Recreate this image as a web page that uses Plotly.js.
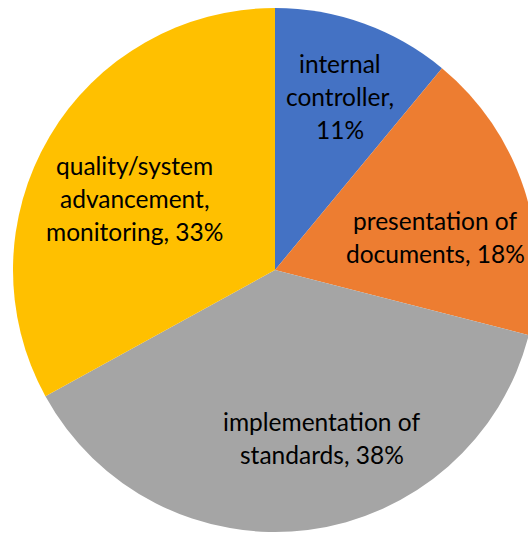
<!DOCTYPE html>
<html>
<head>
<meta charset="utf-8">
<script src="https://cdn.plot.ly/plotly-3.0.1.min.js"></script>
<style>
html,body{margin:0;padding:0;overflow:hidden;background:#fff;}
#chart{width:550px;height:534px;}
</style>
</head>
<body>
<div id="chart"></div>
<script>
const categories = ["internal controller", "presentation of documents", "implementation of standards", "quality/system advancement, monitoring"];
const values = [11, 18, 38, 33];
const colors = ["#4472C4", "#ED7D31", "#A5A5A5", "#FFC000"];
// how each label is broken into lines (as in the reference)
const labelLines = [
  ["internal", "controller,", "{p}"],
  ["presentation of", "documents, {p}"],
  ["implementation of", "standards, {p}"],
  ["quality/system", "advancement,", "monitoring, {p}"]
];
// label centres (paper coords)
const labelPos = [[0.618, 0.820], [0.791, 0.556], [0.585, 0.180], [0.245, 0.629]];

const total = values.reduce((a, b) => a + b, 0);
const W = 550, H = 534, lineH = 33;
const annotations = [];
labelLines.forEach((lines, i) => {
  const pct = Math.round(values[i] / total * 100) + "%";
  const n = lines.length;
  lines.forEach((ln, j) => {
    const off = (j - (n - 1) / 2) * lineH / H;
    annotations.push({
      text: ln.replace("{p}", pct),
      x: labelPos[i][0], y: labelPos[i][1] - off,
      xref: "paper", yref: "paper",
      xanchor: "center", yanchor: "middle",
      showarrow: false,
      font: {family: "Lato, 'Open Sans', sans-serif", size: 24.5, color: "#000000"}
    });
  });
});

const data = [{
  type: "pie",
  labels: categories,
  values: values,
  sort: false,
  direction: "clockwise",
  rotation: 0,
  marker: {colors: colors, line: {width: 0}},
  textinfo: "none",
  hoverinfo: "label+percent",
  showlegend: false,
  domain: {x: [13 / W, 537 / W], y: [2 / H, 526 / H]}
}];

const layout = {
  width: W, height: H,
  margin: {l: 0, r: 0, t: 0, b: 0},
  paper_bgcolor: "#ffffff",
  showlegend: false,
  annotations: annotations
};

Plotly.newPlot("chart", data, layout, {displayModeBar: false, staticPlot: true});
</script>
</body>
</html>
